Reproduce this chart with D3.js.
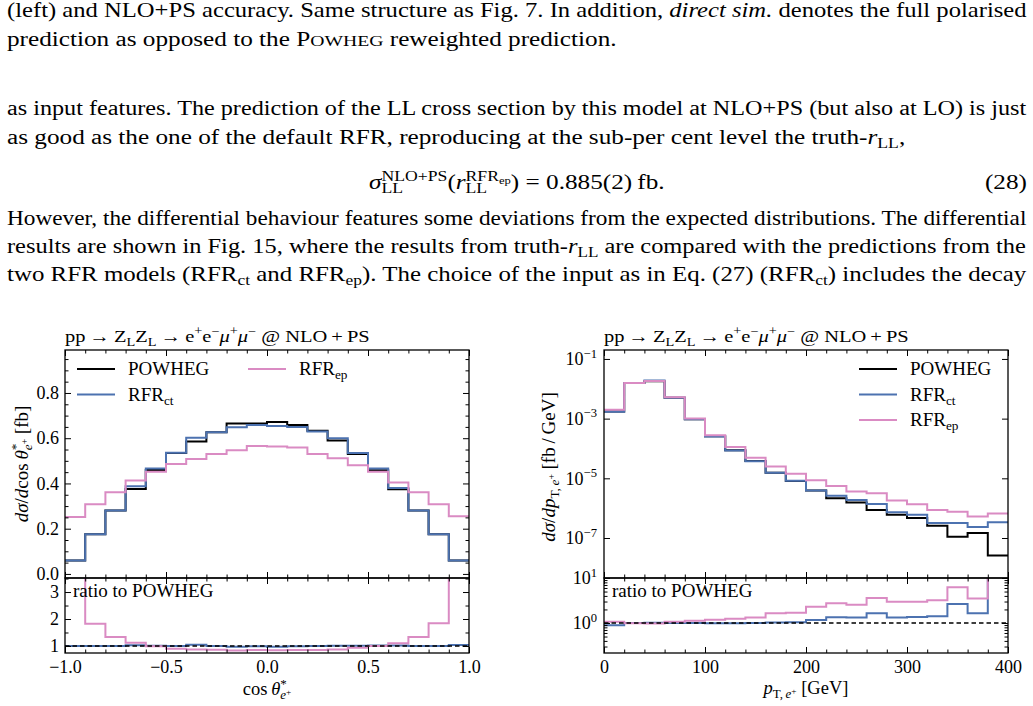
<!DOCTYPE html>
<html><head><meta charset="utf-8">
<script src="https://cdn.jsdelivr.net/npm/d3@7"></script>
<style>
body{margin:0;background:#fff;}
svg{display:block;}
text{font-family:"Liberation Serif","Times New Roman",serif;fill:#000;}
</style></head><body>
<svg id="chart" width="1033" height="706"></svg>
<script>
// ---------------- DATA ----------------
const cosBinEdges = [-1.0,-0.9,-0.8,-0.7,-0.6,-0.5,-0.4,-0.3,-0.2,-0.1,0.0,0.1,0.2,0.3,0.4,0.5,0.6,0.7,0.8,0.9,1.0];
const cosPowheg = [0.059,0.175,0.280,0.376,0.460,0.535,0.585,0.626,0.665,0.665,0.672,0.658,0.633,0.590,0.530,0.458,0.374,0.280,0.175,0.059];
const cosRFRct  = [0.059,0.175,0.280,0.388,0.466,0.536,0.602,0.626,0.648,0.658,0.654,0.650,0.630,0.600,0.535,0.466,0.380,0.280,0.175,0.059];
const cosRFRep  = [0.252,0.308,0.361,0.413,0.452,0.486,0.508,0.530,0.547,0.566,0.563,0.559,0.530,0.511,0.481,0.452,0.404,0.361,0.308,0.255];
const cosRatioCt = [1.00,1.00,1.00,1.03,1.01,1.00,1.05,1.00,0.975,0.99,0.97,0.99,0.995,1.01,1.01,1.02,1.02,1.00,1.00,1.04];
const cosRatioEp = [4.30,1.82,1.33,1.12,0.99,0.90,0.87,0.86,0.83,0.85,0.84,0.85,0.85,0.87,0.93,1.00,1.10,1.33,1.84,4.30];

const ptBinEdges = [0,20,40,60,80,100,120,140,160,180,200,220,240,260,280,300,320,340,360,380,400];
const ptPowheg = [1.75e-3,1.55e-2,1.80e-2,5.01e-3,9.55e-4,2.57e-4,8.71e-5,3.80e-5,1.55e-5,8.13e-6,3.89e-6,2.14e-6,1.55e-6,8.71e-7,6.03e-7,4.68e-7,2.57e-7,1.10e-7,1.48e-7,2.57e-8];
const ptRFRct  = [1.70e-3,1.55e-2,1.91e-2,5.00e-3,9.50e-4,2.51e-4,8.50e-5,3.72e-5,1.55e-5,8.30e-6,3.90e-6,2.63e-6,1.86e-6,1.38e-6,7.24e-7,6.03e-7,3.16e-7,3.16e-7,2.34e-7,3.39e-7];
const ptRFRep  = [2.00e-3,1.55e-2,1.82e-2,5.25e-3,1.02e-3,2.75e-4,1.12e-4,4.90e-5,2.51e-5,1.41e-5,8.70e-6,5.50e-6,3.63e-6,3.16e-6,1.82e-6,1.35e-6,8.70e-7,7.60e-7,5.25e-7,6.60e-7];
const ptRatioCt = [0.89,1.00,1.01,1.00,1.00,0.99,0.99,1.00,1.02,1.04,1.17,1.34,1.32,1.64,1.32,1.36,1.42,2.65,1.64,13.0];
const ptRatioEp = [1.07,0.99,0.98,1.06,1.12,1.18,1.25,1.32,1.64,1.68,2.30,2.74,2.55,3.60,2.95,2.95,3.20,6.20,3.50,25.0];

const cosMajorTicks = [-1.0,-0.5,0.0,0.5,1.0];
const cosMainYTicks = [0.0,0.2,0.4,0.6,0.8];
const cosRatioYTicks = [1,2,3];
const ptMajorTicks = [0,100,200,300,400];
const ptMainYTicks = [1e-1,1e-3,1e-5,1e-7];
const ptRatioYTicks = [1,10];

const seriesNames = ["POWHEG","RFR","RFR"];
const seriesSubs = ["","ct","ep"];
const colors = ["#000000","#4C72B0","#DA8BC3"];

// ---------------- HELPERS ----------------
const svg = d3.select("#chart");
const LEVELS = {
  base:{fs:1, off:0}, sub:{fs:0.7, off:0.22}, sup:{fs:0.7, off:-0.4},
  supsub:{fs:0.5, off:-0.27}, subsup:{fs:0.5, off:0.0}
};
function rich(parent, parts, size, attrs) {
  const t = parent.append("text").attr("font-size", size);
  if (attrs) for (const k in attrs) t.attr(k, attrs[k]);
  let cur = 0, pending = 0;
  function add(p, extraDx) {
    if (typeof p === "string") p = {t:p};
    const lv = LEVELS[p.l || "base"];
    const off = lv.off * size;
    const ts = t.append("tspan").text(p.t)
      .attr("font-size", lv.fs * size * (p.sc ? 0.78 : 1))
      .attr("dy", off - cur);
    cur = off;
    if (p.i) ts.attr("font-style", "italic");
    const dx = (extraDx || 0) + pending; pending = 0;
    if (dx) ts.attr("dx", dx);
    return ts.node().getComputedTextLength();
  }
  parts.forEach(p => {
    if (p && p.up) {
      let wu = 0; p.up.forEach(q => { wu += add(q); });
      let wd = 0; p.down.forEach((q, i) => { wd += add(q, i === 0 ? -wu : 0); });
      pending = Math.max(0, wu - wd);
    } else add(p);
  });
  return t;
}
function line(parts, x, y, target, size) {
  const g = svg.append("g");
  const t = rich(g, parts, size || 19);
  const w = t.node().getBBox().width;
  g.attr("transform", `translate(${x},${y}) scale(${target / w},1)`);
  return g;
}

// ---------------- BODY TEXT ----------------
const BODY = 20, COL0 = 7, COL1 = 1027;
const bodyLines = [
  {parts:["(left) and NLO+PS accuracy. Same structure as Fig. 7. In addition, ", {t:"direct sim.", i:true}, " denotes the full polarised"], y:17, mode:"just"},
  {parts:["prediction as opposed to the P", {t:"OWHEG", sc:true}, " reweighted prediction."], y:46, mode:"left", target:610},
  {parts:["as input features. The prediction of the LL cross section by this model at NLO+PS (but also at LO) is just"], y:115, mode:"just"},
  {parts:["as good as the one of the default RFR, reproducing at the sub-per cent level the truth-", {t:"r", i:true}, {t:"LL", l:"sub"}, ","], y:144, mode:"left"},
  {parts:[{t:"σ", i:true}, {up:[{t:"NLO+PS", l:"sup"}], down:[{t:"LL", l:"sub"}]}, "(", {t:"r", i:true},
      {up:[{t:"RFR", l:"sup"}, {t:"ep", l:"supsub"}], down:[{t:"LL", l:"sub"}]}, ") = 0.885(2)\u2009fb."], y:189, mode:"center"},
  {parts:["(28)"], y:189, mode:"right"},
  {parts:["However, the differential behaviour features some deviations from the expected distributions. The differential"], y:225, mode:"just"},
  {parts:["results are shown in Fig. 15, where the results from truth-", {t:"r", i:true}, {t:"LL", l:"sub"}, " are compared with the predictions from the"], y:253, mode:"just"},
  {parts:["two RFR models (RFR", {t:"ct", l:"sub"}, " and RFR", {t:"ep", l:"sub"}, "). The choice of the input as in Eq. (27) (RFR", {t:"ct", l:"sub"}, ") includes the decay"], y:281, mode:"just"}
];
bodyLines.forEach(L => {
  L.g = svg.append("g");
  L.t = rich(L.g, L.parts, BODY);
  L.w = L.t.node().getBBox().width;
});
// horizontal glyph scale calibrated on the measured width of the second line
const S = bodyLines[1].target / bodyLines[1].w;
bodyLines.forEach(L => {
  let x = COL0, s = S;
  if (L.mode === "just") s = (COL1 - COL0) / L.w;
  else if (L.mode === "center") x = (COL0 + COL1) / 2 - L.w * S / 2;
  else if (L.mode === "right") x = COL1 - L.w * S;
  L.g.attr("transform", `translate(${x},${L.y}) scale(${s},1)`);
});

// ---------------- CHART HELPERS ----------------
const FS = 18;
function stepPoints(edges, vals) {
  const pts = vals.map((v, i) => [edges[i], v]);
  pts.push([edges[edges.length - 1], vals[vals.length - 1]]);
  return pts;
}
let clipId = 0;
function clip(x0, y0, x1, y1) {
  const id = "clip" + (clipId++);
  svg.append("clipPath").attr("id", id).append("rect")
    .attr("x", x0).attr("y", y0).attr("width", x1 - x0).attr("height", y1 - y0);
  return `url(#${id})`;
}
function drawSteps(x, y, edges, seriesList, box, dashedOne) {
  const g = svg.append("g").attr("clip-path", clip(box[0], box[1], box[2], box[3]));
  const gen = d3.line().x(d => x(d[0])).y(d => y(d[1])).curve(d3.curveStepAfter);
  seriesList.forEach((s, i) => {
    if (!s) return;
    g.append("path").attr("d", gen(stepPoints(edges, s)))
      .attr("fill", "none").attr("stroke", colors[i]).attr("stroke-width", 2)
      .attr("stroke-linejoin", "miter");
  });
  if (dashedOne) {
    g.append("line").attr("x1", box[0]).attr("x2", box[2]).attr("y1", y(1)).attr("y2", y(1))
      .attr("stroke", "#000").attr("stroke-width", 1.3).attr("stroke-dasharray", "4.5,3");
  }
}
function styleAxis(g) {
  g.select(".domain").remove();
  g.attr("font-family", null).attr("font-size", FS);
  g.selectAll("line").attr("stroke", "#000").attr("stroke-width", 1);
  g.selectAll("text").attr("fill", "#000");
  return g;
}
function axis(gen, tx, ty) {
  return styleAxis(svg.append("g").attr("transform", `translate(${tx},${ty})`).call(gen));
}
function frame(x0, y0, x1, y1) {
  svg.append("rect").attr("x", x0).attr("y", y0).attr("width", x1 - x0).attr("height", y1 - y0)
    .attr("fill", "none").attr("stroke", "#000").attr("stroke-width", 1.3);
}
function xTicks(x, P, majors, minors, fmt) {
  [[P.yTop, d3.axisTop], [P.yMid, d3.axisBottom], [P.yMid, d3.axisTop], [P.yBot, d3.axisBottom]].forEach(([yy, A], k) => {
    axis(A(x).tickValues(majors).tickSizeInner(-6).tickSizeOuter(0).tickPadding(7).tickFormat(k === 3 ? fmt : ""), 0, yy);
    axis(A(x).tickValues(minors).tickSizeInner(-3.5).tickSizeOuter(0).tickFormat(""), 0, yy);
  });
}
function yTicks(y, P, majors, minors, fmt, pad) {
  const gl = axis(d3.axisLeft(y).tickValues(majors).tickSizeInner(-6).tickSizeOuter(0).tickPadding(pad).tickFormat(fmt), P.x0, 0);
  axis(d3.axisRight(y).tickValues(majors).tickSizeInner(-6).tickSizeOuter(0).tickFormat(""), P.x1, 0);
  if (minors.length) {
    axis(d3.axisLeft(y).tickValues(minors).tickSizeInner(-3.5).tickSizeOuter(0).tickFormat(""), P.x0, 0);
    axis(d3.axisRight(y).tickValues(minors).tickSizeInner(-3.5).tickSizeOuter(0).tickFormat(""), P.x1, 0);
  }
  return gl;
}
function powLabels(g) {
  g.selectAll(".tick text").each(function(d) {
    const e = Math.round(Math.log10(d));
    const t = d3.select(this).text("");
    t.append("tspan").text("10");
    t.append("tspan").text(e < 0 ? "\u2212" + (-e) : String(e)).attr("font-size", FS * 0.7).attr("dy", -FS * 0.42);
  });
}
function legend(items, y0, dy) {
  items.forEach(it => {
    const yy = y0 + it.row * dy;
    svg.append("line").attr("x1", it.x).attr("x2", it.x + 38).attr("y1", yy).attr("y2", yy)
      .attr("stroke", colors[it.s]).attr("stroke-width", 2);
    const parts = [seriesNames[it.s]];
    if (seriesSubs[it.s]) parts.push({t:seriesSubs[it.s], l:"sub"});
    rich(svg, parts, 19, {x: it.x + 51, y: yy + 6});
  });
}
const titleParts = ["pp\u2009\u2192\u2009Z", {t:"L", l:"sub"}, "Z", {t:"L", l:"sub"}, "\u2009\u2192\u2009e", {t:"+", l:"sup"}, "e", {t:"\u2212", l:"sup"},
  {t:"μ", i:true}, {t:"+", l:"sup"}, {t:"μ", i:true}, {t:"\u2212", l:"sup"}, "  @ NLO\u2009+\u2009PS"];

// ---------------- LEFT CHART ----------------
const PL = {x0:65, x1:469, yTop:350, yMid:578, yBot:653};
const xL = d3.scaleLinear().domain([cosBinEdges[0], cosBinEdges[20]]).range([PL.x0, PL.x1]);
const yLm = d3.scaleLinear().domain([-0.018, 0.99]).range([PL.yMid, PL.yTop]);
const yLr = d3.scaleLinear().domain([0.74, 3.52]).range([PL.yBot, PL.yMid]);

drawSteps(xL, yLm, cosBinEdges, [cosPowheg, cosRFRct, cosRFRep], [PL.x0, PL.yTop, PL.x1, PL.yMid], false);
drawSteps(xL, yLr, cosBinEdges, [null, cosRatioCt, cosRatioEp], [PL.x0, PL.yMid, PL.x1, PL.yBot], true);
xTicks(xL, PL, cosMajorTicks, d3.range(-0.9, 0.95, 0.1).filter(v => Math.abs(v * 2 - Math.round(v * 2)) > 1e-6), d3.format(".1f"));
yTicks(yLm, PL, cosMainYTicks, d3.range(0.05, 0.96, 0.05).filter(v => Math.abs(v * 5 - Math.round(v * 5)) > 1e-6), d3.format(".1f"), 6);
yTicks(yLr, PL, cosRatioYTicks, [1.5, 2.5, 3.5], d3.format("d"), 6);
frame(PL.x0, PL.yTop, PL.x1, PL.yMid);
frame(PL.x0, PL.yMid, PL.x1, PL.yBot);
line(titleParts, 65, 342, 305, 17);
legend([{s:0, x:77, row:0}, {s:1, x:77, row:1}, {s:2, x:248, row:0}], 369, 25.5);
rich(svg, ["ratio to POWHEG"], 19, {x:73, y:597});
rich(svg, [{t:"dσ", i:true}, "/", {t:"d", i:true}, "cos\u2009", {t:"θ", i:true}, {up:[{t:"*", l:"sup"}], down:[{t:"e", l:"sub", i:true}, {t:"+", l:"subsup"}]}, "  [fb]"], 19,
  {transform:"translate(28,464) rotate(-90)", "text-anchor":"middle"});
rich(svg, ["cos\u2009", {t:"θ", i:true}, {up:[{t:"*", l:"sup"}], down:[{t:"e", l:"sub", i:true}, {t:"+", l:"subsup"}]}], 18.5,
  {x:267, y:695, "text-anchor":"middle"});

// ---------------- RIGHT CHART ----------------
const PR = {x0:604, x1:1008, yTop:350, yMid:578, yBot:653};
const xR = d3.scaleLinear().domain([ptBinEdges[0], ptBinEdges[20]]).range([PR.x0, PR.x1]);
const yRm = d3.scaleLog().domain([Math.pow(10, -8.34), Math.pow(10, -0.70)]).range([PR.yMid, PR.yTop]);
const yRr = d3.scaleLog().domain([Math.pow(10, -0.667), 10]).range([PR.yBot, PR.yMid]);

drawSteps(xR, yRm, ptBinEdges, [ptPowheg, ptRFRct, ptRFRep], [PR.x0, PR.yTop, PR.x1, PR.yMid], false);
drawSteps(xR, yRr, ptBinEdges, [null, ptRatioCt, ptRatioEp], [PR.x0, PR.yMid, PR.x1, PR.yBot], true);
xTicks(xR, PR, ptMajorTicks, d3.range(20, 400, 20).filter(v => v % 100 !== 0), d3.format("d"));
powLabels(yTicks(yRm, PR, ptMainYTicks, [], d3.format(""), 7));
powLabels(yTicks(yRr, PR, ptRatioYTicks, [0.3,0.4,0.5,0.6,0.7,0.8,0.9,2,3,4,5,6,7,8,9], d3.format(""), 7));
frame(PR.x0, PR.yTop, PR.x1, PR.yMid);
frame(PR.x0, PR.yMid, PR.x1, PR.yBot);
line(titleParts, 604, 342, 305, 17);
legend([{s:0, x:859, row:0}, {s:1, x:859, row:1}, {s:2, x:859, row:2}], 369, 25.5);
rich(svg, ["ratio to POWHEG"], 19, {x:612, y:597});
rich(svg, [{t:"dσ", i:true}, "/", {t:"dp", i:true}, {t:"T,\u2009", l:"sub"}, {t:"e", l:"sub", i:true}, {t:"+", l:"subsup"}, "  [fb\u2009/\u2009GeV]"], 19,
  {transform:"translate(555,467) rotate(-90)", "text-anchor":"middle"});
rich(svg, [{t:"p", i:true}, {t:"T,\u2009", l:"sub"}, {t:"e", l:"sub", i:true}, {t:"+", l:"subsup"}, "  [GeV]"], 18.5,
  {x:806, y:694, "text-anchor":"middle"});
</script>
</body></html>
